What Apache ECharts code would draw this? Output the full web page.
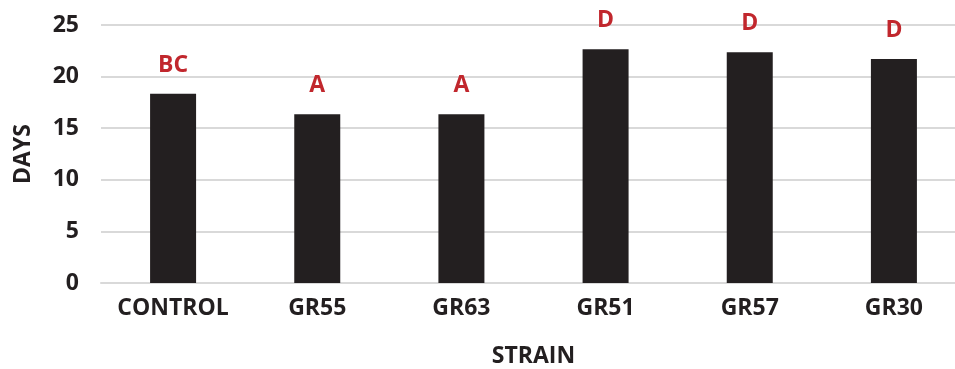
<!DOCTYPE html>
<html>
<head>
<meta charset="utf-8">
<script src="https://cdn.jsdelivr.net/npm/echarts@6/dist/echarts.min.js"></script>
<style>
  html, body { margin: 0; padding: 0; background: #fff; }
  #chart { width: 955px; height: 369px; }
</style>
</head>
<body>
<div id="chart"></div>
<script>
var strains = ['CONTROL', 'GR55', 'GR63', 'GR51', 'GR57', 'GR30'];
var days = [18.35, 16.35, 16.35, 22.65, 22.35, 21.7];
var groups = ['BC', 'A', 'A', 'D', 'D', 'D'];

var dom = document.getElementById('chart');
var myChart = echarts.init(dom);
var fontFam = '"Open Sans", "DejaVu Sans", sans-serif';

var option = {
    animation: false,
    grid: {
        left: 101,
        top: 25,
        width: 865,
        height: 258,
        outerBoundsMode: 'none'
    },
    xAxis: {
        type: 'category',
        data: strains,
        name: 'STRAIN',
        nameLocation: 'middle',
        nameGap: 62,
        nameTextStyle: { fontFamily: fontFam, fontWeight: 'bold', fontSize: 23, color: '#231f20' },
        axisLine: { lineStyle: { color: '#d9d9d9', width: 2 } },
        axisTick: { show: false },
        axisLabel: { interval: 0, fontFamily: fontFam, fontWeight: 'bold', fontSize: 23, color: '#231f20', margin: 14 }
    },
    yAxis: {
        type: 'value',
        min: 0,
        max: 25,
        interval: 5,
        name: 'DAYS',
        nameLocation: 'middle',
        nameGap: 66,
        nameTextStyle: { fontFamily: fontFam, fontWeight: 'bold', fontSize: 23, color: '#231f20' },
        axisLine: { show: false },
        axisTick: { show: false },
        splitLine: { lineStyle: { color: '#d9d9d9', width: 2 } },
        axisLabel: { fontFamily: fontFam, fontWeight: 'bold', fontSize: 23, color: '#231f20', margin: 22 }
    },
    series: [{
        type: 'bar',
        data: days,
        barWidth: 46,
        itemStyle: { color: '#231f20' },
        label: {
            show: true,
            position: 'top',
            distance: 17,
            formatter: function (p) { return groups[p.dataIndex]; },
            fontFamily: fontFam,
            fontWeight: 'bold',
            fontSize: 23,
            color: '#c1272d'
        }
    }]
};

myChart.setOption(option);
</script>
</body>
</html>
